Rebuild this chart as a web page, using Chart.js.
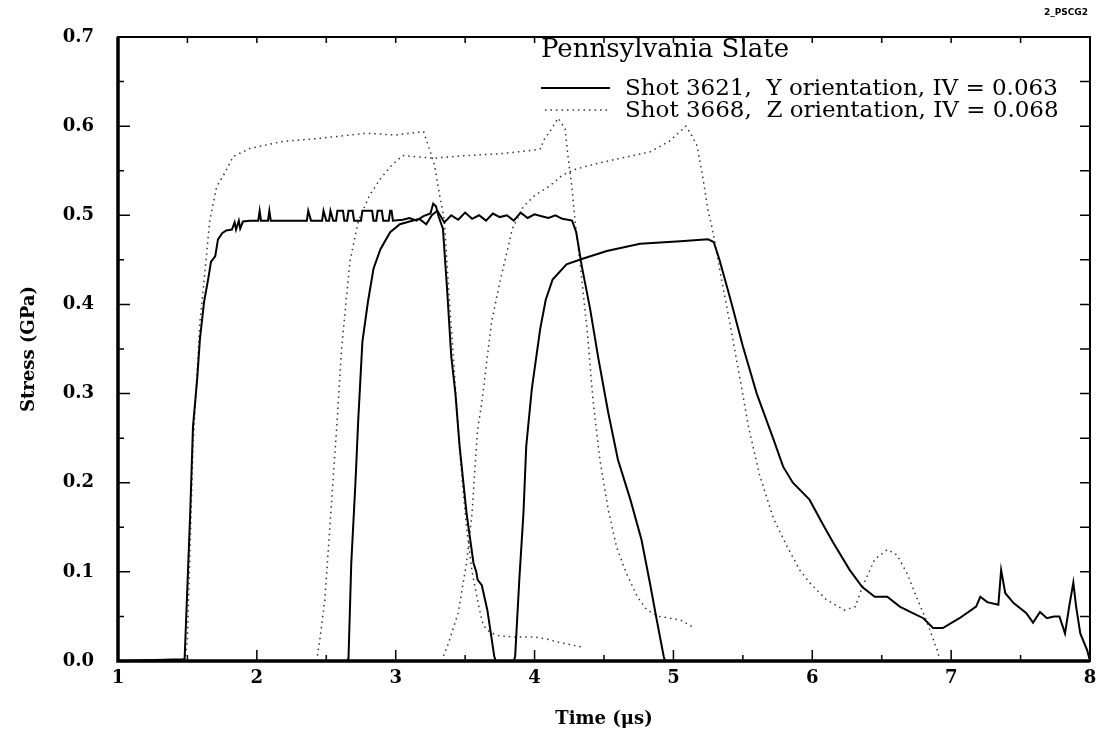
<!DOCTYPE html>
<html>
<head>
<meta charset="utf-8">
<script src="https://cdn.jsdelivr.net/npm/chart.js@4.4.1/dist/chart.umd.min.js"></script>
<style>
  body { margin: 0; background: #fff; }
  canvas { display: block; }
</style>
</head>
<body>
<canvas id="chart" width="1100" height="738"></canvas>
<script>
// Shot 3621, Y orientation - three gauges (solid)
const yGauge1Time = [1.0, 1.47, 1.48, 1.52, 1.54, 1.57, 1.59, 1.62, 1.65, 1.67, 1.70, 1.72, 1.75, 1.78, 1.82, 1.84, 1.85, 1.87, 1.88, 1.90, 1.95, 2.01, 2.02, 2.03, 2.08, 2.09, 2.10, 2.36, 2.37, 2.39, 2.47, 2.48, 2.50, 2.52, 2.53, 2.55, 2.57, 2.58, 2.62, 2.63, 2.65, 2.66, 2.69, 2.70, 2.75, 2.76, 2.83, 2.84, 2.86, 2.87, 2.90, 2.91, 2.95, 2.96, 2.97, 2.98, 3.05, 3.10, 3.15, 3.20, 3.25, 3.27, 3.29, 3.31, 3.34, 3.37, 3.40, 3.43, 3.46, 3.51, 3.56, 3.58, 3.59, 3.62, 3.66, 3.71, 3.72];
const yGauge1Stress = [0, 0.002, 0.003, 0.166, 0.263, 0.316, 0.361, 0.403, 0.429, 0.448, 0.454, 0.473, 0.480, 0.483, 0.484, 0.492, 0.484, 0.494, 0.485, 0.493, 0.494, 0.494, 0.505, 0.494, 0.494, 0.505, 0.494, 0.494, 0.505, 0.494, 0.494, 0.505, 0.494, 0.494, 0.505, 0.494, 0.494, 0.505, 0.505, 0.494, 0.494, 0.505, 0.505, 0.494, 0.494, 0.505, 0.505, 0.494, 0.494, 0.505, 0.505, 0.494, 0.494, 0.505, 0.505, 0.494, 0.495, 0.497, 0.494, 0.499, 0.502, 0.513, 0.510, 0.498, 0.485, 0.417, 0.342, 0.300, 0.241, 0.166, 0.110, 0.100, 0.091, 0.085, 0.057, 0.005, 0];

const yGauge2Time = [1.0, 2.65, 2.66, 2.68, 2.71, 2.73, 2.76, 2.80, 2.84, 2.89, 2.96, 3.03, 3.10, 3.17, 3.22, 3.26, 3.30, 3.35, 3.40, 3.45, 3.50, 3.55, 3.60, 3.65, 3.70, 3.75, 3.80, 3.85, 3.90, 3.95, 4.00, 4.05, 4.10, 4.15, 4.20, 4.27, 4.30, 4.34, 4.40, 4.46, 4.53, 4.60, 4.69, 4.77, 4.83, 4.88, 4.93, 4.94];
const yGauge2Stress = [0, 0, 0.003, 0.110, 0.200, 0.270, 0.358, 0.403, 0.440, 0.462, 0.481, 0.490, 0.493, 0.496, 0.490, 0.500, 0.505, 0.492, 0.500, 0.495, 0.503, 0.496, 0.500, 0.494, 0.502, 0.498, 0.500, 0.494, 0.503, 0.497, 0.501, 0.499, 0.497, 0.500, 0.496, 0.494, 0.481, 0.443, 0.395, 0.339, 0.279, 0.226, 0.181, 0.136, 0.088, 0.046, 0.005, 0];

const yGauge3Time = [1.0, 3.85, 3.86, 3.89, 3.92, 3.94, 3.98, 4.04, 4.08, 4.13, 4.23, 4.34, 4.52, 4.76, 5.05, 5.25, 5.29, 5.33, 5.41, 5.50, 5.60, 5.72, 5.79, 5.86, 5.98, 6.07, 6.15, 6.27, 6.36, 6.45, 6.54, 6.63, 6.72, 6.80, 6.87, 6.94, 7.06, 7.18, 7.21, 7.26, 7.34, 7.36, 7.39, 7.45, 7.54, 7.59, 7.64, 7.69, 7.74, 7.78, 7.82, 7.85, 7.88, 7.90, 7.93, 7.98, 8.0];
const yGauge3Stress = [0, 0, 0.005, 0.091, 0.166, 0.241, 0.305, 0.372, 0.405, 0.428, 0.445, 0.451, 0.460, 0.468, 0.471, 0.473, 0.470, 0.451, 0.406, 0.353, 0.300, 0.249, 0.218, 0.200, 0.181, 0.155, 0.133, 0.102, 0.083, 0.072, 0.072, 0.061, 0.054, 0.048, 0.037, 0.037, 0.048, 0.061, 0.072, 0.066, 0.063, 0.102, 0.076, 0.065, 0.054, 0.043, 0.055, 0.048, 0.050, 0.050, 0.031, 0.061, 0.088, 0.061, 0.031, 0.012, 0];

// Shot 3668, Z orientation - three gauges (dotted)
const zGauge1Time = [1.48, 1.50, 1.54, 1.59, 1.63, 1.66, 1.71, 1.76, 1.83, 1.95, 2.19, 2.43, 2.79, 3.00, 3.20, 3.25, 3.28, 3.32, 3.35, 3.38, 3.42, 3.45, 3.48, 3.51, 3.55, 3.60, 3.63, 3.68, 3.75, 3.85, 4.00, 4.10, 4.20, 4.30, 4.36];
const zGauge1Stress = [0, 0.024, 0.241, 0.380, 0.443, 0.493, 0.532, 0.545, 0.566, 0.575, 0.583, 0.586, 0.592, 0.590, 0.594, 0.571, 0.556, 0.519, 0.495, 0.420, 0.330, 0.260, 0.200, 0.150, 0.100, 0.060, 0.040, 0.032, 0.028, 0.027, 0.027, 0.024, 0.020, 0.017, 0.015];

const zGauge2Time = [2.43, 2.45, 2.49, 2.53, 2.58, 2.61, 2.67, 2.73, 2.81, 2.89, 2.97, 3.05, 3.27, 3.51, 3.75, 3.99, 4.05, 4.06, 4.11, 4.17, 4.22, 4.24, 4.27, 4.29, 4.33, 4.38, 4.42, 4.47, 4.53, 4.59, 4.66, 4.74, 4.81, 4.90, 5.05, 5.14];
const zGauge2Stress = [0, 0.020, 0.069, 0.160, 0.274, 0.350, 0.448, 0.493, 0.522, 0.541, 0.556, 0.567, 0.564, 0.567, 0.569, 0.573, 0.575, 0.583, 0.594, 0.609, 0.597, 0.567, 0.530, 0.496, 0.443, 0.369, 0.294, 0.226, 0.170, 0.128, 0.099, 0.072, 0.057, 0.050, 0.046, 0.038];

const zGauge3Time = [3.33, 3.38, 3.45, 3.51, 3.55, 3.57, 3.59, 3.62, 3.69, 3.75, 3.84, 3.92, 4.00, 4.11, 4.20, 4.30, 4.45, 4.59, 4.83, 4.97, 5.07, 5.09, 5.13, 5.17, 5.21, 5.25, 5.28, 5.35, 5.41, 5.48, 5.54, 5.62, 5.72, 5.82, 5.91, 5.98, 6.10, 6.23, 6.31, 6.36, 6.45, 6.54, 6.61, 6.68, 6.75, 6.82, 6.90, 6.92];
const zGauge3Stress = [0, 0.020, 0.054, 0.110, 0.166, 0.215, 0.260, 0.290, 0.380, 0.425, 0.485, 0.510, 0.522, 0.533, 0.545, 0.552, 0.558, 0.563, 0.571, 0.583, 0.597, 0.600, 0.590, 0.578, 0.544, 0.505, 0.485, 0.425, 0.376, 0.316, 0.263, 0.209, 0.160, 0.128, 0.102, 0.088, 0.069, 0.057, 0.061, 0.083, 0.114, 0.125, 0.119, 0.099, 0.072, 0.046, 0.012, 0];

const xTicks = [1, 2, 3, 4, 5, 6, 7, 8];
const yTicks = [0, 0.1, 0.2, 0.3, 0.4, 0.5, 0.6, 0.7];

const chartTitle = 'Pennsylvania Slate';
const legendSolid = 'Shot 3621,  Y orientation, IV = 0.063';
const legendDotted = 'Shot 3668,  Z orientation, IV = 0.068';

const serif = '"DejaVu Serif", serif';

function toPoints(times, stresses) {
    return times.map((t, i) => ({ x: t, y: stresses[i] }));
}

function solidSet(times, stresses) {
    return {
        data: toPoints(times, stresses),
        borderColor: '#000',
        borderWidth: 2,
        pointRadius: 0,
        tension: 0
    };
}

function dottedSet(times, stresses) {
    return {
        data: toPoints(times, stresses),
        borderColor: '#333',
        borderWidth: 1.5,
        borderDash: [1.5, 4],
        pointRadius: 0,
        tension: 0
    };
}

// frame with inward ticks, the legend block and the corner tag
const framePlugin = {
    id: 'frame',
    afterDatasetsDraw(chart) {
        const { ctx, chartArea: a, scales: { x, y } } = chart;
        ctx.save();
        ctx.strokeStyle = '#000';
        ctx.lineWidth = 1.5;
        ctx.beginPath();
        for (let t = 1; t <= 8; t += 0.5) {
            const px = x.getPixelForValue(t);
            const len = t % 1 === 0 ? 11 : 6;
            ctx.moveTo(px, a.bottom);
            ctx.lineTo(px, a.bottom - len);
            ctx.moveTo(px, a.top);
            ctx.lineTo(px, a.top + 6);
        }
        for (let k = 0; k <= 14; k++) {
            const py = y.getPixelForValue(k * 0.05);
            const len = k % 2 === 0 ? 12 : 6;
            ctx.moveTo(a.left, py);
            ctx.lineTo(a.left + len, py);
            ctx.moveTo(a.right, py);
            ctx.lineTo(a.right - 10, py);
        }
        ctx.stroke();

        ctx.lineWidth = 2;
        ctx.strokeRect(a.left, a.top, a.right - a.left, a.bottom - a.top);
        ctx.lineWidth = 3.5;
        ctx.beginPath();
        ctx.moveTo(a.left, a.top);
        ctx.lineTo(a.left, a.bottom);
        ctx.lineTo(a.right, a.bottom);
        ctx.stroke();

        // legend block
        ctx.fillStyle = '#000';
        ctx.textBaseline = 'alphabetic';
        ctx.textAlign = 'left';
        ctx.font = '26px ' + serif;
        ctx.fillText(chartTitle, 541, 57);
        ctx.font = '23px ' + serif;
        ctx.fillText(legendSolid, 625, 95);
        ctx.fillText(legendDotted, 625, 117);

        ctx.lineWidth = 2;
        ctx.beginPath();
        ctx.moveTo(541, 88);
        ctx.lineTo(610, 88);
        ctx.stroke();
        ctx.lineWidth = 1.5;
        ctx.strokeStyle = '#333';
        ctx.setLineDash([1.5, 4]);
        ctx.beginPath();
        ctx.moveTo(545, 110);
        ctx.lineTo(610, 110);
        ctx.stroke();
        ctx.setLineDash([]);

        ctx.font = 'bold 9px "DejaVu Sans", sans-serif';
        ctx.textAlign = 'right';
        ctx.textBaseline = 'middle';
        ctx.fillText('2_PSCG2', 1088, 13);
        ctx.restore();
    }
};

const tickFont = { family: serif, size: 18, weight: 'bold' };
const titleFont = { family: serif, size: 18, weight: 'bold' };

new Chart(document.getElementById('chart'), {
    type: 'line',
    data: {
        datasets: [
            solidSet(yGauge1Time, yGauge1Stress),
            solidSet(yGauge2Time, yGauge2Stress),
            solidSet(yGauge3Time, yGauge3Stress),
            dottedSet(zGauge1Time, zGauge1Stress),
            dottedSet(zGauge2Time, zGauge2Stress),
            dottedSet(zGauge3Time, zGauge3Stress)
        ]
    },
    options: {
        responsive: false,
        animation: false,
        layout: { padding: { top: 37, right: 10, left: 0, bottom: 0 } },
        plugins: {
            legend: { display: false },
            tooltip: { enabled: false }
        },
        scales: {
            x: {
                type: 'linear',
                min: 1,
                max: 8,
                afterFit: (s) => { s.height = 77; s.paddingLeft = 0; s.paddingRight = 0; },
                afterBuildTicks: (s) => { s.ticks = xTicks.map(v => ({ value: v })); },
                ticks: { font: tickFont, color: '#000', padding: 7, callback: v => String(v) },
                grid: { display: false, drawTicks: false },
                border: { display: false },
                title: {
                    display: true,
                    text: 'Time (\u03bcs)',
                    color: '#000',
                    font: titleFont,
                    padding: { top: 0, bottom: 8 }
                }
            },
            y: {
                min: 0,
                max: 0.7,
                afterFit: (s) => { s.width = 118; },
                afterBuildTicks: (s) => { s.ticks = yTicks.map(v => ({ value: v })); },
                ticks: { font: tickFont, color: '#000', padding: 24, callback: v => v.toFixed(1) },
                grid: { display: false, drawTicks: false },
                border: { display: false },
                title: {
                    display: true,
                    text: 'Stress (GPa)',
                    color: '#000',
                    font: titleFont,
                    padding: { top: 19, bottom: 0 }
                }
            }
        }
    },
    plugins: [framePlugin]
});
</script>
</body>
</html>
